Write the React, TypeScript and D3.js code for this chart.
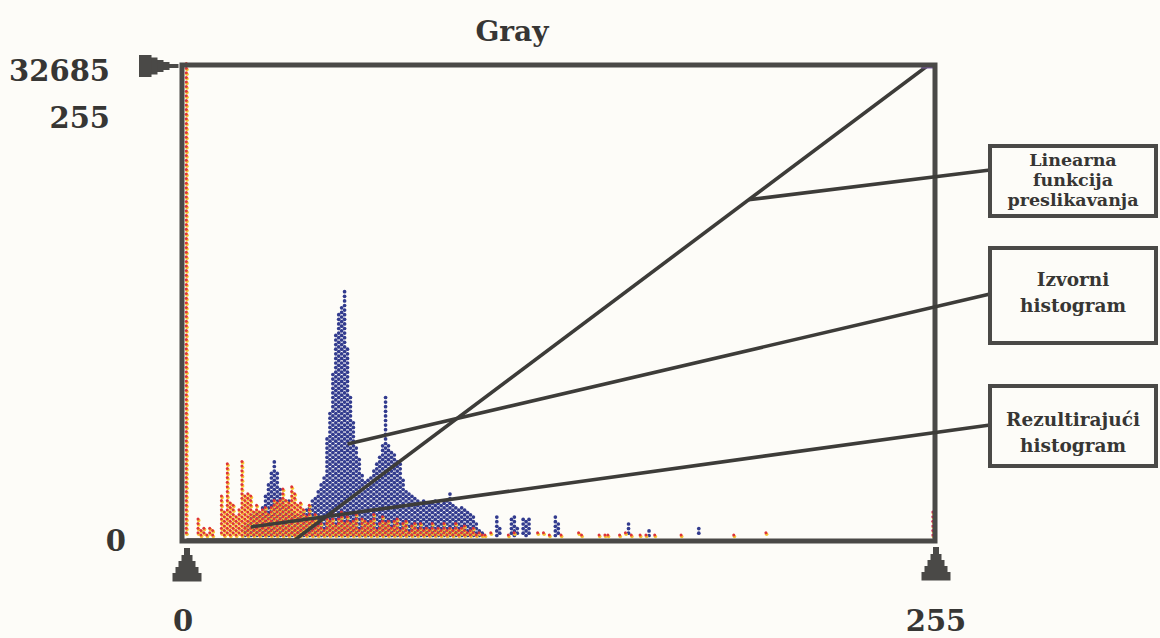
import React from "react";
import * as d3 from "d3";

// ---------- data ----------
const titleText = "Gray";
const yTickLabels = ["32685", "255", "0"];
const xTickLabels = ["0", "255"];
const countMax = 32685;
const levelMax = 255;

// source histogram (blue): [gray level, pixel count]
const sourceHistogram: [number, number][] = [
  [20, 1040], [21, 1240], [22, 1520], [23, 1730], [24, 2070], [25, 1930], [26, 2420], [27, 3110],
  [28, 3800], [29, 4690], [30, 5520], [31, 4830], [32, 3450], [33, 2760], [34, 2420], [35, 2620],
  [36, 2070], [37, 1930], [38, 1730], [39, 1930], [40, 2070], [41, 2210], [42, 2420], [43, 2620],
  [44, 2900], [45, 3310], [46, 3800], [47, 4490], [48, 6900], [49, 8630], [50, 11390], [51, 14150],
  [52, 15730], [53, 16220], [54, 17320], [55, 13110], [56, 10010], [57, 8280], [58, 6560], [59, 5520],
  [60, 4490], [61, 4000], [62, 4140], [63, 4490], [64, 4970], [65, 5380], [66, 5870], [67, 6560],
  [68, 10010], [69, 6560], [70, 6210], [71, 5870], [72, 5520], [73, 5310], [74, 4140], [75, 3310],
  [76, 3110], [77, 3110], [78, 3040], [79, 2900], [80, 2760], [81, 2620], [82, 2620], [83, 2480],
  [84, 2480], [85, 2620], [86, 2480], [87, 2420], [88, 2480], [89, 2620], [90, 3110], [91, 2480],
  [92, 2420], [93, 2280], [94, 2280], [95, 2070], [96, 1930], [97, 1730], [98, 1520], [99, 1240],
  [100, 830], [101, 410], [106, 1730], [107, 830], [111, 1520], [112, 1590], [113, 830], [115, 1520],
  [116, 1240], [117, 1590], [126, 1590], [127, 1240], [151, 1170], [158, 760], [175, 760],
];

// resulting histogram (red / yellow): [gray level, pixel count]
const resultHistogram: [number, number][] = [
  [0, 32685], [4, 1380], [5, 690], [6, 900], [7, 550], [8, 900], [9, 690], [12, 2970], [13, 2070],
  [14, 5180], [15, 2760], [16, 2420], [17, 1520], [18, 2070], [19, 5520], [20, 3110], [21, 3240],
  [22, 3110], [23, 2070], [24, 2420], [25, 1930], [26, 2070], [27, 2210], [28, 1930], [29, 2420],
  [30, 2620], [31, 2760], [32, 2620], [33, 3450], [34, 2760], [35, 2620], [36, 3800], [37, 3110],
  [38, 2420], [39, 2760], [40, 2070], [41, 1730], [42, 2420], [43, 1240], [44, 1930], [45, 1040],
  [46, 1380], [47, 830], [48, 1520], [49, 1240], [50, 1730], [51, 1040], [52, 1520], [53, 1930],
  [54, 1240], [55, 1520], [56, 1040], [57, 1380], [58, 1730], [59, 830], [60, 1520], [61, 1240],
  [62, 1040], [63, 1380], [64, 1730], [65, 830], [66, 1240], [67, 1520], [68, 1040], [69, 1380],
  [70, 830], [71, 1240], [72, 1520], [73, 830], [74, 1040], [75, 1240], [76, 690], [77, 1040],
  [78, 1240], [79, 830], [80, 1040], [81, 690], [82, 970], [83, 830], [84, 1040], [85, 690],
  [86, 970], [87, 830], [88, 1040], [89, 690], [90, 970], [91, 830], [92, 1040], [93, 690],
  [94, 900], [95, 1040], [96, 690], [97, 830], [98, 970], [99, 550], [100, 690], [101, 410],
  [102, 350], [104, 550], [110, 350], [112, 410], [120, 410], [122, 550], [124, 350], [128, 350],
  [134, 550], [135, 350], [141, 350], [143, 550], [144, 350], [148, 350], [150, 410], [152, 350],
  [155, 350], [157, 410], [160, 350], [169, 410], [187, 410], [198, 410], [255, 1860],
];

// linear mapping function: [input level, output level]
const mappingFunction: [number, number][] = [[0, 0], [37, 0], [253, 255], [255, 255]];

// callout boxes
const calloutTexts = [
  ["Linearna", "funkcija", "preslikavanja"],
  ["Izvorni", "histogram"],
  ["Rezultirajući", "histogram"],
];
// each callout points at: [gray level, value]
const calloutTargets: [number, number][] = [
  [192, 183],   // on the mapping line (output level)
  [55, 6600],   // source histogram (count)
  [22, 900],    // resulting histogram (count)
];

// ---------- layout ----------
const W = 1160;
const H = 638;
const plotLeft = 182;
const plotRight = 935;
const plotTop = 65;
const plotBottom = 541;

const frameColor = "#4a4947";
const lineColor = "#3d3c39";
const textColor = "#373634";
const blue = "#323b8e";
const red = "#de3438";
const yellow = "#f6c535";
const paper = "#fdfcf8";
const serif = "'DejaVu Serif', serif";

const x = d3.scaleLinear().domain([0, levelMax]).range([186.5, 933]);
const y = d3.scaleLinear().domain([0, countMax]).range([540, 65]);
const yMap = d3.scaleLinear().domain([0, levelMax]).range([540, 66]);

const dotStep = 4.6;
const dotBase = 535.5;

function columnDots(level: number, count: number, phase: number) {
  const top = y(count);
  const pts: number[] = [];
  const off = (level + phase) % 2 === 0 ? 0 : 0.5;
  for (let i = 0; i < 200; i++) {
    const cy = dotBase - (i + off) * dotStep;
    if (cy < top - 1) break;
    pts.push(cy);
  }
  if (pts.length === 0) pts.push(dotBase);
  return pts;
}

function Pyramid({ cx, top }: { cx: number; top: number }) {
  const steps: [number, number][] = [[6, 7], [11, 6], [17, 6], [23, 6], [29, 8]];
  let yy = top;
  return (
    <g fill={frameColor}>
      {steps.map(([w, h], i) => {
        const r = <rect key={i} x={cx - w / 2} y={yy} width={w} height={h + 0.5} />;
        yy += h;
        return r;
      })}
    </g>
  );
}

function SideMarker({ tip, cy }: { tip: number; cy: number }) {
  const steps: [number, number][] = [[9, 4], [6, 8], [6, 12], [6, 17], [12, 22]];
  let xx = tip;
  return (
    <g fill={frameColor}>
      {steps.map(([w, h], i) => {
        xx -= w;
        return <rect key={i} x={xx} y={cy - h / 2} width={w + 0.5} height={h} />;
      })}
    </g>
  );
}

export default function App() {
  const mapLine = d3
    .line<[number, number]>()
    .x((d) => x(d[0]))
    .y((d) => yMap(d[1]))(mappingFunction) as string;

  const boxes = [
    { x: 990, y: 146, w: 166, h: 70, baselines: [166, 186, 206], size: 17.5 },
    { x: 990, y: 248, w: 166, h: 95, baselines: [286, 312], size: 18.5 },
    { x: 990, y: 386, w: 166, h: 80, baselines: [426, 452], size: 18.5 },
  ];
  const anchorsY = [170, 294, 425];

  return (
    <svg width={W} height={H} style={{ position: "absolute", left: 0, top: 0, background: paper }}>
      <rect x={0} y={0} width={W} height={H} fill={paper} />

      {/* title */}
      <text x={512} y={41} textAnchor="middle" fontFamily={serif} fontWeight="bold" fontSize={28} fill={textColor}>
        {titleText}
      </text>

      {/* y labels */}
      <text x={110} y={81} textAnchor="end" fontFamily={serif} fontWeight="bold" fontSize={29} fill={textColor}>
        {yTickLabels[0]}
      </text>
      <text x={110} y={128} textAnchor="end" fontFamily={serif} fontWeight="bold" fontSize={29} fill={textColor}>
        {yTickLabels[1]}
      </text>
      <text x={126} y={551} textAnchor="end" fontFamily={serif} fontWeight="bold" fontSize={29} fill={textColor}>
        {yTickLabels[2]}
      </text>

      {/* x labels */}
      <text x={183} y={631} textAnchor="middle" fontFamily={serif} fontWeight="bold" fontSize={29} fill={textColor}>
        {xTickLabels[0]}
      </text>
      <text x={936} y={631} textAnchor="middle" fontFamily={serif} fontWeight="bold" fontSize={29} fill={textColor}>
        {xTickLabels[1]}
      </text>

      {/* source histogram */}
      <g>
        {sourceHistogram.map(([lv, c]) =>
          columnDots(lv, c, 0).map((cy, i) => (
            <circle key={`s${lv}-${i}`} cx={x(lv)} cy={cy} r={1.85} fill={blue} />
          ))
        )}
      </g>

      {/* resulting histogram */}
      <g>
        {resultHistogram.map(([lv, c]) =>
          columnDots(lv, c, 1).map((cy, i) => (
            <g key={`r${lv}-${i}`}>
              <circle cx={x(lv) + 0.5} cy={cy + 1} r={1.8} fill={yellow} />
              <circle cx={x(lv) - 0.2} cy={cy - 0.4} r={1.5} fill={lv === levelMax ? "#d8305a" : red} />
            </g>
          ))
        )}
      </g>

      {/* mapping function */}
      <path d={mapLine} fill="none" stroke={lineColor} strokeWidth={3.6} />
      <rect x={x(251)} y={plotTop - 1.5} width={12} height={5} fill="#7a5ca6" />

      {/* frame */}
      <rect
        x={plotLeft}
        y={plotTop}
        width={plotRight - plotLeft}
        height={plotBottom - plotTop}
        fill="none"
        stroke={frameColor}
        strokeWidth={5}
      />

      {/* markers */}
      <SideMarker tip={178} cy={66} />
      <Pyramid cx={187} top={548} />
      <Pyramid cx={936} top={547} />

      {/* leader lines */}
      {calloutTargets.map(([lv, v], i) => (
        <line
          key={`l${i}`}
          x1={boxes[i].x}
          y1={anchorsY[i]}
          x2={x(lv)}
          y2={i === 0 ? yMap(v) : y(v)}
          stroke={lineColor}
          strokeWidth={3.6}
        />
      ))}

      {/* callout boxes */}
      {boxes.map((b, i) => (
        <g key={`b${i}`}>
          <rect x={b.x} y={b.y} width={b.w} height={b.h} fill={paper} stroke={frameColor} strokeWidth={4} />
          {calloutTexts[i].map((t, j) => (
            <text
              key={j}
              x={b.x + b.w / 2}
              y={b.baselines[j]}
              textAnchor="middle"
              fontFamily={serif}
              fontWeight="bold"
              fontSize={b.size}
              fill={textColor}
            >
              {t}
            </text>
          ))}
        </g>
      ))}
    </svg>
  );
}
